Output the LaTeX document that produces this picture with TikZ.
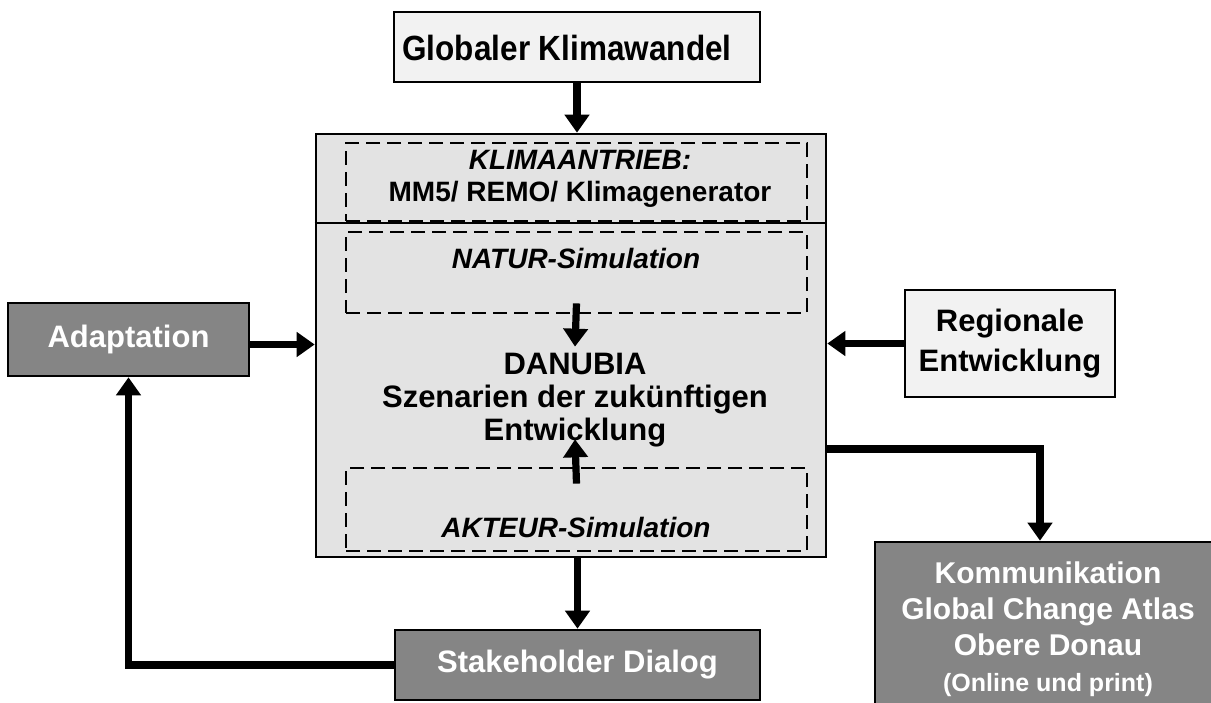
\documentclass[tikz,border=0pt]{standalone}
\usepackage{fontspec}
\setmainfont{Liberation Sans}
\newfontfamily\narrowsans{Liberation Sans}[FakeStretch=0.9]
\usetikzlibrary{arrows.meta}

\begin{document}
\begin{tikzpicture}[x=0.5pt,y=-0.5pt,
    conn/.style={line width=3.6pt,-{Triangle[length=9pt,width=12pt]}},
    lightbox/.style={draw,line width=1.3pt,fill=black!5,align=center,font=\bfseries\fontsize{15.5}{20}\selectfont},
    darkbox/.style={draw,line width=1.3pt,fill=black!48,text=white,align=center,font=\bfseries\fontsize{15.5}{18}\selectfont},
    dashbox/.style={draw,line width=1.4pt,dash pattern=on 7pt off 3.5pt,minimum width=230.5pt},
    simlbl/.style={font=\bfseries\itshape\fontsize{14}{16}\selectfont}]
    \useasboundingbox (0,0) rectangle (1211,702);
    \node[lightbox,minimum width=183pt,minimum height=35pt] (glob) at (577,47) {};
    \node[font=\narrowsans\bfseries\fontsize{17.5}{20}\selectfont] (globlbl) at (567,48) {Globaler Klimawandel};
    \node[draw,line width=1.3pt,fill=black!11,minimum width=255pt,minimum height=211.5pt] (main) at (571,345.5) {};
    \draw[line width=1.3pt] (main.west |- 0,223) -- (main.east |- 0,223);
    \node[dashbox,minimum height=39pt] (klima) at (576.5,182) {};
    \node[font=\bfseries\fontsize{14}{16}\selectfont,align=center] (klimalbl) at (580,179) {\textit{KLIMAANTRIEB:}\\MM5/ REMO/ Klimagenerator};
    \node[dashbox,minimum height=40.5pt] (natur) at (576.5,272.5) {};
    \node[simlbl] (naturlbl) at (576,258) {NATUR-Simulation};
    \node[dashbox,minimum height=41.5pt] (akteur) at (576.5,509.5) {};
    \node[simlbl] (akteurlbl) at (576,527) {AKTEUR-Simulation};
    \node[inner sep=0pt,align=center,font=\bfseries\fontsize{15.5}{16.5}\selectfont] (danubia) at (575,400) {DANUBIA\\Szenarien der zukünftigen\\Entwicklung};
    \node[darkbox,minimum width=120.5pt,minimum height=36.5pt] (adapt) at (128.5,339.5) {Adaptation};
    \node[lightbox,minimum width=105pt,minimum height=53.5pt] (reg) at (1010,343.5) {Regionale\\Entwicklung};
    \node[darkbox,minimum width=182.5pt,minimum height=35pt] (stake) at (577.5,665) {Stakeholder Dialog};
    \node[darkbox,font=\bfseries\fontsize{15}{18}\selectfont,minimum width=173pt,minimum height=87pt] (komm) at (1048,629)
        {Kommunikation\\Global Change Atlas\\Obere Donau\\{\fontsize{12.5}{18}\selectfont(Online und print)}};
    % arrows
    \draw[conn] (glob.south) -- (glob.south |- main.north);
    \draw[conn] ([yshift=5.5pt]natur.south) -- ([yshift=3pt]danubia.north);
    \draw[conn] ([yshift=-8.5pt]akteur.north) -- ([yshift=4pt]danubia.south);
    \draw[conn] ([yshift=-2.5pt]adapt.east) -- ([yshift=-2.5pt]adapt.east -| main.west);
    \draw[conn] (reg.west) -- (reg.west -| main.east);
    \draw[conn] (stake.north |- main.south) -- (stake.north);
    \draw[conn] ([yshift=-51.75pt]main.east) -| ([xshift=-4pt]komm.north);
    \draw[conn] (stake.west) -| (adapt.south);
\end{tikzpicture}
\end{document}
